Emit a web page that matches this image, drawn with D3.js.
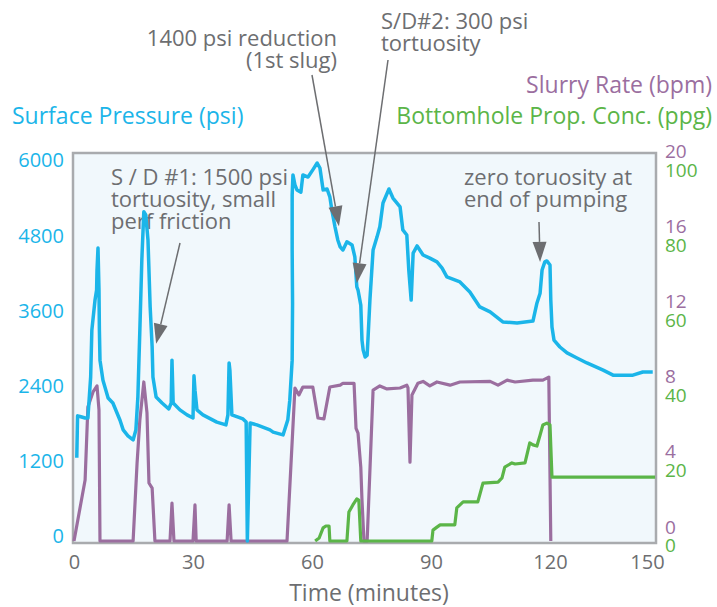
<!DOCTYPE html>
<html>
<head>
<meta charset="utf-8">
<script src="https://cdn.jsdelivr.net/npm/d3@7"></script>
<style>
  body { margin: 0; background: #fff; }
  text { font-family: 'Open Sans', sans-serif; }
</style>
</head>
<body>
<div id="chart"></div>
<script>
// Surface pressure (psi) against time (minutes)
const pressureTime = [0.7, 0.9, 1.5, 2.8, 3.5, 4.2, 4.5, 5.3, 5.7, 5.8, 6.05, 6.3, 6.4, 6.55, 7.3, 8.6, 9.8, 11.6, 12.4, 13.6,
    14.9, 15.6, 16.1, 16.6, 17.1, 17.6, 18.1, 18.65, 19.2, 19.7, 19.9, 20.7, 22.2, 23.9, 24.5, 24.7, 25.0, 26.7, 28.5, 30.0,
    30.25, 30.5, 31.0, 32.5, 36.0, 38.3, 38.8, 39.1, 39.3, 39.8, 42.6, 43.4, 43.7, 44.4, 46.1, 49.4, 50.2, 52.7, 53.9, 54.4,
    55.0, 55.1, 55.0, 55.0, 55.2, 55.7, 56.2, 57.2, 57.7, 59.0, 60.2, 61.3, 62.0, 62.8, 63.8, 64.5, 65.0, 65.8, 66.5, 67.1,
    67.8, 68.8, 70.1, 70.8, 71.3, 71.6, 72.3, 72.6, 72.9, 73.4, 73.9, 74.1, 74.6, 75.4, 76.4, 77.1, 77.9, 79.4, 80.4, 82.2,
    82.9, 83.9, 84.4, 85.0, 85.5, 86.5, 88.0, 89.7, 91.5, 92.8, 94.0, 97.3, 99.8, 102.3, 104.9, 108.1, 111.7, 115.7, 116.7, 117.5,
    118.0, 118.7, 119.2, 120.0, 120.2, 120.5, 121.0, 122.5, 124.3, 126.8, 129.3, 133.4, 135.9, 140.9, 143.4, 145.9];
const pressure = [1330, 2000, 1990, 1965, 1965, 2620, 3370, 3850, 4010, 4330, 4680, 4010, 3370, 2890, 2570, 2285, 2205, 1930, 1775, 1680,
    1615, 1775, 2300, 3370, 4490, 5260, 5210, 4810, 3740, 3100, 2620, 2300, 2205, 2110, 2205, 2890, 2205, 2095, 2015, 1965,
    2640, 2410, 2095, 2015, 1900, 1855, 2015, 2845, 2730, 2015, 1950, 1900, 0, 1885, 1855, 1775, 1740, 1695, 1935, 2250,
    2890, 3800, 4650, 5530, 5850, 5690, 5610, 5575, 5850, 5815, 5930, 6040, 5960, 5610, 5625, 5500, 5290, 5020, 4810, 4700,
    4650, 4780, 4730, 4540, 4060, 4010, 3770, 3210, 3050, 2940, 2970, 3210, 3850, 4650, 4860, 5020, 5400, 5625, 5480, 5340,
    4970, 4890, 4330, 3850, 4600, 4715, 4570, 4520, 4460, 4360, 4220, 4140, 3980, 3740, 3660, 3500, 3485, 3515, 3800, 3960,
    4330, 4460, 4475, 4410, 3850, 3420, 3210, 3100, 3005, 2925, 2845, 2730, 2650, 2650, 2700, 2700];

// Slurry rate (bpm)
const rateTime = [0, 2.8, 3.5, 4.8, 5.8, 6.3, 6.55, 14.9, 15.9, 16.6, 17.6, 18.4, 18.9, 19.7, 20.4, 24.2, 24.7, 25.2, 30.0, 30.5,
    30.8, 38.6, 39.1, 39.6, 53.7, 55.7, 56.7, 57.7, 60.2, 61.5, 63.0, 64.5, 67.1, 67.8, 70.6, 71.1, 71.6, 72.3, 72.6, 73.1,
    73.9, 75.4, 77.1, 78.9, 82.2, 83.9, 84.2, 84.7, 85.2, 86.7, 88.0, 89.7, 91.5, 94.8, 97.3, 104.9, 106.9, 109.2, 111.2, 115.7,
    118.2, 119.7, 120.2];
const slurryRate = [0, 3.25, 7.14, 7.94, 8.26, 6.98, 0, 0, 4.15, 6.44, 8.47, 6.82, 3.09, 2.82, 0, 0, 2.02, 0, 0, 1.92,
    0, 0, 1.92, 0, 0, 8.15, 7.78, 8.2, 8.2, 6.55, 6.5, 8.2, 8.3, 8.4, 8.4, 6.0, 5.75, 3.94, 2.18, 0,
    0, 8.04, 8.26, 8.1, 8.15, 8.3, 8.15, 4.2, 7.78, 8.4, 8.5, 8.26, 8.47, 8.3, 8.47, 8.5, 8.3, 8.57, 8.47, 8.57,
    8.57, 8.73, 0];

// Bottomhole proppant concentration (ppg)
const concTime = [60.8, 61.8, 62.8, 63.5, 64.3, 64.5, 68.8, 69.3, 70.3, 71.3, 71.8, 72.3, 90.2, 90.5, 91.5, 92.3, 96.0, 96.5, 98.1, 101.8,
    103.1, 106.9, 107.9, 108.6, 110.4, 111.2, 113.7, 114.9, 115.7, 116.7, 117.5, 118.2, 119.2, 120.0, 120.5, 146.5];
const propConc = [0, 0.8, 3.5, 4.0, 4.0, 0, 0, 7.7, 9.6, 11.2, 10.9, 0, 0, 2.9, 3.7, 4.3, 4.3, 8.8, 10.4, 10.4,
    15.4, 15.7, 16.8, 19.7, 20.8, 20.5, 20.8, 26.1, 25.6, 25.3, 28.2, 30.9, 31.4, 30.9, 17.0, 17.0];

const timeTicks = [0, 30, 60, 90, 120, 150];
const pressureTicks = [0, 1200, 2400, 3600, 4800, 6000];
const rateTicks = [0, 4, 8, 12, 16, 20];
const concTicks = [0, 20, 40, 60, 80, 100];

const colors = { pressure: '#1bb5e9', rate: '#9b6e9f', conc: '#5bb548', text: '#6d6e71', frame: '#a9abae' };

const width = 717;
const height = 607;
const plot = { left: 73, top: 153, right: 656, bottom: 543 };

const svg = d3.select('#chart')
    .append('svg')
    .attr('width', width)
    .attr('height', height);

const x = d3.scaleLinear().domain([0, 150]).range([74, 669]);
const y = d3.scaleLinear().domain([0, 6000]).range([541, 165.5]);
const yRate = d3.scaleLinear().domain([0, 20]).range([541, 165.5]);
const yConc = d3.scaleLinear().domain([0, 100]).range([541, 165.5]);

// Plot frame
svg.append('rect')
    .attr('x', plot.left)
    .attr('y', plot.top)
    .attr('width', plot.right - plot.left)
    .attr('height', plot.bottom - plot.top)
    .attr('fill', '#f1f8fc')
    .attr('stroke', colors.frame)
    .attr('stroke-width', 2.5);

// Axis tick labels (no tick lines)
function styleAxis(g, color, size) {
    g.select('.domain').remove();
    g.selectAll('text')
        .attr('fill', color)
        .style('font-size', size + 'px');
}

svg.append('g')
    .attr('transform', 'translate(64,-5)')
    .call(d3.axisLeft(y).tickValues(pressureTicks).tickFormat(d3.format('d')).tickSize(0).tickPadding(0))
    .call(g => styleAxis(g, colors.pressure, 20));

svg.append('g')
    .attr('transform', 'translate(665,-14)')
    .call(d3.axisRight(yRate).tickValues(rateTicks).tickSize(0).tickPadding(0))
    .call(g => styleAxis(g, colors.rate, 19));

svg.append('g')
    .attr('transform', 'translate(665,4.5)')
    .call(d3.axisRight(yConc).tickValues(concTicks).tickSize(0).tickPadding(0))
    .call(g => styleAxis(g, colors.conc, 19));

svg.append('g')
    .attr('transform', 'translate(0,555)')
    .call(d3.axisBottom(x).tickValues(timeTicks).tickSize(0).tickPadding(0))
    .call(g => styleAxis(g, colors.text, 20))
    .selectAll('text')
    .filter(d => d === 150)
    .attr('dx', -22);

// Axis titles
const titles = [
    { text: 'Surface Pressure (psi)', x: 12, y: 124, anchor: 'start', color: colors.pressure },
    { text: 'Slurry Rate (bpm)', x: 712, y: 93, anchor: 'end', color: colors.rate },
    { text: 'Bottomhole Prop. Conc. (ppg)', x: 712, y: 124, anchor: 'end', color: colors.conc },
    { text: 'Time (minutes)', x: 369, y: 601, anchor: 'middle', color: colors.text }
];
svg.selectAll('.title')
    .data(titles)
    .enter().append('text')
    .attr('class', 'title')
    .attr('x', d => d.x)
    .attr('y', d => d.y)
    .attr('text-anchor', d => d.anchor)
    .attr('fill', d => d.color)
    .style('font-size', '23px')
    .text(d => d.text);

// Annotations: text block, arrow start (px) and arrow tip (time, psi)
const annotations = [
    { lines: ['S / D #1: 1500 psi', 'tortuosity, small', 'perf friction'], x: 111, y: 185, anchor: 'start', from: [180, 243], tip: [20.7, 3150] },
    { lines: ['1400 psi reduction', '(1st slug)'], x: 337, y: 46, anchor: 'end', from: [312, 75], tip: [66.8, 5030] },
    { lines: ['S/D#2: 300 psi', 'tortuosity'], x: 381, y: 29, anchor: 'start', from: [388, 60], tip: [71.3, 4120] },
    { lines: ['zero toruosity at', 'end of pumping'], x: 464, y: 185, anchor: 'start', from: [539, 222], tip: [117.5, 4460] }
];

annotations.forEach(a => {
    const t = svg.append('text')
        .attr('x', a.x)
        .attr('y', a.y)
        .attr('text-anchor', a.anchor)
        .attr('fill', colors.text)
        .style('font-size', '22px');
    a.lines.forEach((line, i) => {
        t.append('tspan').attr('x', a.x).attr('dy', i === 0 ? 0 : 22).text(line);
    });
});

// Data lines
const line = (xs, ys, yScale) => d3.line()
    .x((d, i) => x(xs[i]))
    .y(d => yScale(d))(ys);

svg.append('path')
    .attr('d', line(rateTime, slurryRate, yRate))
    .attr('fill', 'none')
    .attr('stroke', colors.rate)
    .attr('stroke-width', 3.2)
    .attr('stroke-linejoin', 'round');

svg.append('path')
    .attr('d', line(concTime, propConc, yConc))
    .attr('fill', 'none')
    .attr('stroke', colors.conc)
    .attr('stroke-width', 3.2)
    .attr('stroke-linejoin', 'round');

svg.append('path')
    .attr('d', line(pressureTime, pressure, y))
    .attr('fill', 'none')
    .attr('stroke', colors.pressure)
    .attr('stroke-width', 3.5)
    .attr('stroke-linejoin', 'round');

// Arrows
annotations.forEach(a => {
    const tx = x(a.tip[0]);
    const ty = y(a.tip[1]);
    const dx = tx - a.from[0];
    const dy = ty - a.from[1];
    const len = Math.sqrt(dx * dx + dy * dy);
    const ux = dx / len, uy = dy / len;
    const bx = tx - ux * 20, by = ty - uy * 20;
    svg.append('line')
        .attr('x1', a.from[0]).attr('y1', a.from[1])
        .attr('x2', bx).attr('y2', by)
        .attr('stroke', colors.text)
        .attr('stroke-width', 1.5);
    svg.append('path')
        .attr('d', `M${tx},${ty}L${bx - uy * 7},${by + ux * 7}L${bx + uy * 7},${by - ux * 7}Z`)
        .attr('fill', colors.text);
});
</script>
</body>
</html>
